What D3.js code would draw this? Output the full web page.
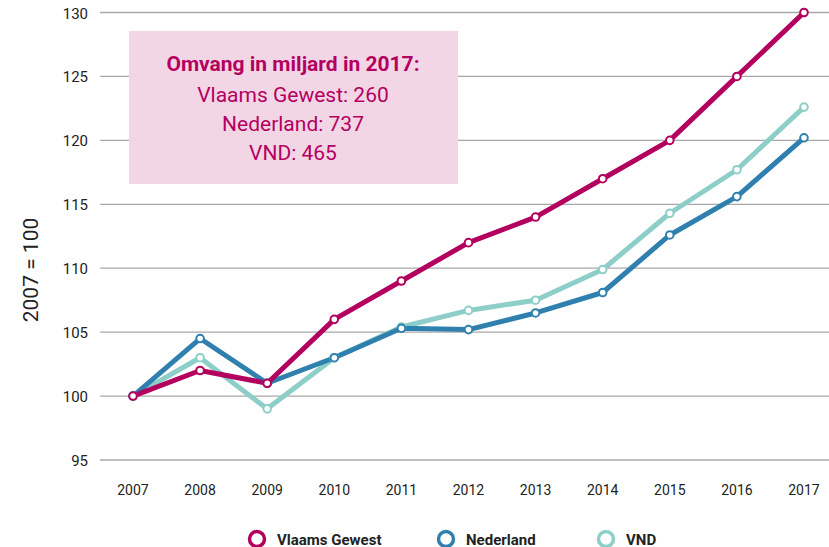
<!DOCTYPE html>
<html>
<head>
<meta charset="utf-8">
<script src="https://cdn.jsdelivr.net/npm/d3@7"></script>
<style>
  body { margin: 0; background: #fff; }
  svg { display: block; font-family: "Roboto", "DejaVu Sans", sans-serif; }
</style>
</head>
<body>
<div id="chart"></div>
<script>
const years = [2007, 2008, 2009, 2010, 2011, 2012, 2013, 2014, 2015, 2016, 2017];
const vlaams = [100, 102, 101, 106, 109, 112, 114, 117, 120, 125, 130];
const nederland = [100, 104.5, 101, 103, 105.3, 105.2, 106.5, 108.1, 112.6, 115.6, 120.2];
const vnd = [100, 103, 99, 103, 105.4, 106.7, 107.5, 109.9, 114.3, 117.7, 122.6];
const yTicks = [95, 100, 105, 110, 115, 120, 125, 130];
const boxLines = ['Vlaams Gewest: 260', 'Nederland: 737', 'VND: 465'];

const series = [
    { name: 'VND', values: vnd, color: '#8dcfc8' },
    { name: 'Nederland', values: nederland, color: '#2f80ae' },
    { name: 'Vlaams Gewest', values: vlaams, color: '#b3005f' }
];
const legendOrder = [series[2], series[1], series[0]];

const width = 829, height = 547;
const svg = d3.select('#chart').append('svg')
    .attr('width', width)
    .attr('height', height);

const x = d3.scaleLinear().domain([2007, 2017]).range([133, 804]);
const y = d3.scaleLinear().domain([95, 130]).range([460, 12.5]);

// Grid lines
svg.append('g')
    .selectAll('line')
    .data(yTicks)
    .enter()
    .append('line')
    .attr('x1', 100)
    .attr('x2', width)
    .attr('y1', d => y(d))
    .attr('y2', d => y(d))
    .style('stroke', '#a8a8a8')
    .style('stroke-width', 1.3);

// Y tick labels
svg.append('g')
    .selectAll('text')
    .data(yTicks)
    .enter()
    .append('text')
    .attr('x', 88)
    .attr('y', d => y(d) + 6)
    .attr('text-anchor', 'end')
    .style('font-size', '15px')
    .style('fill', '#222')
    .text(d => d);

// X tick labels
svg.append('g')
    .selectAll('text')
    .data(years)
    .enter()
    .append('text')
    .attr('x', d => x(d))
    .attr('y', 495)
    .attr('text-anchor', 'middle')
    .style('font-size', '14px')
    .style('fill', '#222')
    .text(d => d);

// Y axis title
svg.append('text')
    .attr('transform', 'translate(38,270) rotate(-90)')
    .attr('text-anchor', 'middle')
    .style('font-size', '21px')
    .style('fill', '#222')
    .text('2007 = 100');

// Info box
svg.append('rect')
    .attr('x', 129)
    .attr('y', 31)
    .attr('width', 329)
    .attr('height', 153)
    .attr('fill', '#f3d6e6');

svg.append('text')
    .attr('x', 293)
    .attr('y', 71)
    .attr('text-anchor', 'middle')
    .style('font-size', '21px')
    .style('font-weight', 'bold')
    .style('fill', '#b3005f')
    .text('Omvang in miljard in 2017:');

svg.append('g')
    .selectAll('text')
    .data(boxLines)
    .enter()
    .append('text')
    .attr('x', 293)
    .attr('y', (d, i) => 102 + i * 29)
    .attr('text-anchor', 'middle')
    .style('font-size', '21px')
    .style('fill', '#b3005f')
    .text(d => d);

// Lines
const line = d3.line()
    .x((d, i) => x(years[i]))
    .y(d => y(d));

series.forEach(s => {
    svg.append('path')
        .attr('d', line(s.values))
        .attr('fill', 'none')
        .attr('stroke', s.color)
        .attr('stroke-width', 5)
        .attr('stroke-linejoin', 'round');
});

series.forEach(s => {
    svg.append('g')
        .selectAll('circle')
        .data(s.values)
        .enter()
        .append('circle')
        .attr('cx', (d, i) => x(years[i]))
        .attr('cy', d => y(d))
        .attr('r', 3.8)
        .attr('fill', '#fff')
        .attr('stroke', s.color)
        .attr('stroke-width', 2);
});

// Legend
const legendX = [257, 446, 606];
const legend = svg.append('g')
    .selectAll('g')
    .data(legendOrder)
    .enter()
    .append('g')
    .attr('transform', (d, i) => `translate(${legendX[i]},539)`);

legend.append('circle')
    .attr('r', 7.5)
    .attr('fill', '#fff')
    .attr('stroke', d => d.color)
    .attr('stroke-width', 3.5);

legend.append('text')
    .attr('x', 20)
    .attr('y', 5.5)
    .style('font-size', '15px')
    .style('font-weight', 'bold')
    .style('fill', '#222')
    .text(d => d.name);
</script>
</body>
</html>
